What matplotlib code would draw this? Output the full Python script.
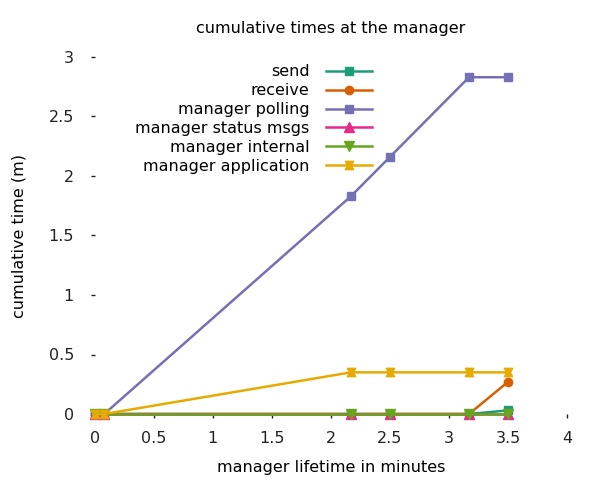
import numpy as np
import matplotlib
matplotlib.use("Agg")
import matplotlib.pyplot as plt
from matplotlib.path import Path

# manager lifetime (minutes)
lifetime = [0.0, 0.08, 2.17, 2.5, 3.17, 3.5]

send = [0, 0, 0, 0, 0, 0.03]
receive = [0, 0, 0, 0, 0, 0.27]
polling = [0, 0, 1.83, 2.16, 2.83, 2.83]
status_msgs = [0, 0, 0, 0, 0, 0]
internal = [0, 0, 0, 0, 0, 0]
application = [0, 0, 0.35, 0.35, 0.35, 0.35]

xticks = [0, 0.5, 1, 1.5, 2, 2.5, 3, 3.5, 4]
xticklabels = ['0', '0.5', '1', '1.5', '2', '2.5', '3', '3.5', '4']
yticks = [0, 0.5, 1, 1.5, 2, 2.5, 3]
yticklabels = ['0', '0.5', '1', '1.5', '2', '2.5', '3']

hourglass = Path([(-1, 1), (1, 1), (0.45, 0), (1, -1), (-1, -1), (-0.45, 0), (-1, 1)],
                 [Path.MOVETO] + [Path.LINETO] * 5 + [Path.CLOSEPOLY])

series = [
    ('send', send, '#1b9e77', 's', 5.5),
    ('receive', receive, '#d95f02', 'o', 6),
    ('manager polling', polling, '#7570b3', 's', 5.5),
    ('manager status msgs', status_msgs, '#e7298a', '^', 6.5),
    ('manager internal', internal, '#66a61e', 'v', 6.5),
    ('manager application', application, '#e6ab02', hourglass, 6),
]

fs = 11.5
fig = plt.figure(figsize=(6, 4.8), dpi=100)
ax = fig.add_axes([0.158, 0.1375, 0.787, 0.74375])

for name, vals, col, mk, ms in series:
    ax.plot(lifetime, vals, color=col, marker=mk, markersize=ms, linewidth=1.8,
            label=name, clip_on=False)

ax.set_xlim(0, 4)
ax.set_ylim(0, 3)
ax.set_xticks(xticks)
ax.set_xticklabels(xticklabels)
ax.set_yticks(yticks)
ax.set_yticklabels(yticklabels)
for s in ax.spines.values():
    s.set_visible(False)
ax.tick_params(direction='out', length=3, width=1, color='#222222',
               labelsize=fs, labelcolor='#222222')
ax.tick_params(axis='x', pad=9)
ax.tick_params(axis='y', pad=12)

ax.set_title('cumulative times at the manager', fontsize=fs, pad=17)
ax.set_xlabel('manager lifetime in minutes', fontsize=fs, labelpad=10)
ax.set_ylabel('cumulative time (m)', fontsize=fs, labelpad=16)

ax.legend(loc='upper right', bbox_to_anchor=(0.587, 0.979), markerfirst=False,
          frameon=False, fontsize=fs, borderaxespad=0, borderpad=0,
          handlelength=2.9, handletextpad=1.0, labelspacing=0.24)

fig.savefig('out.png', dpi=100)
